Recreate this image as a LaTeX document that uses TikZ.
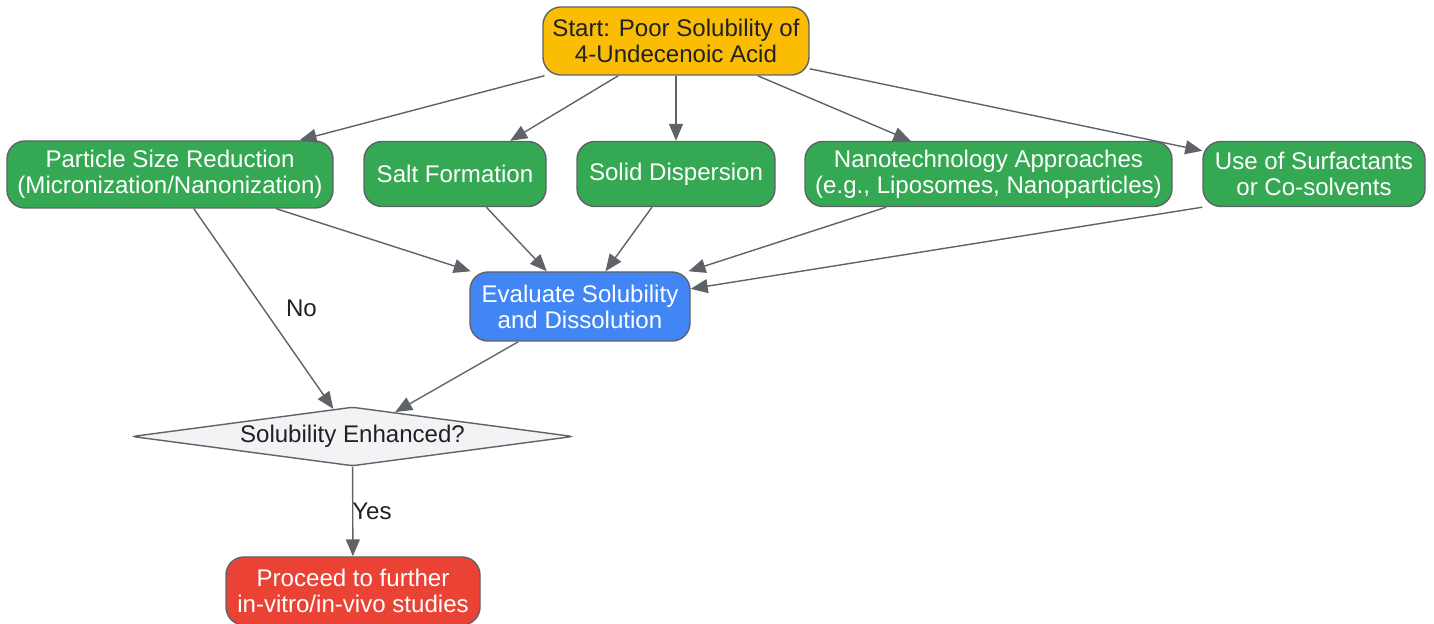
\documentclass[tikz,border=0pt]{standalone}
\usepackage{fontspec}
\setmainfont{Liberation Sans}
\usepackage{xcolor}
\usepackage{tikz}
\usetikzlibrary{shapes,arrows,positioning,calc,arrows.meta}

\definecolor{linegray}{HTML}{5F6368}
\definecolor{startyellow}{HTML}{FBBC04}
\definecolor{stepgreen}{HTML}{34A853}
\definecolor{evalblue}{HTML}{4285F4}
\definecolor{endred}{HTML}{EA4335}
\definecolor{decgray}{HTML}{F1F3F4}
\definecolor{darktext}{HTML}{202124}

\tikzset{
    box/.style={draw=linegray, line width=0.8pt, rounded corners=0.36cm,
        align=center, inner sep=2pt, font=\fontsize{13.7}{14.8}\selectfont},
    startbox/.style={box, fill=startyellow, text=darktext},
    stepbox/.style={box, fill=stepgreen, text=white, minimum height=1.3cm},
    evalbox/.style={box, fill=evalblue, text=white},
    endbox/.style={box, fill=endred, text=white},
    decision/.style={diamond, draw=linegray, line width=0.8pt, fill=decgray,
        text=darktext, aspect=7.5, inner sep=0pt, rounded corners=2pt,
        font=\fontsize{13.7}{14.8}\selectfont},
    link/.style={draw=linegray, line width=0.8pt,
        -{Triangle[length=0.34cm, width=0.28cm]}},
    linklabel/.style={text=darktext, font=\fontsize{13.7}{14.8}\selectfont}
}

\begin{document}
\begin{tikzpicture}
    \useasboundingbox (0,0) rectangle (28.68,-12.48);

    % Start
    \node[startbox, minimum width=5.32cm, minimum height=1.36cm] (start) at (13.52,-0.82)
        {Start: Poor Solubility of\\4-Undecenoic Acid};

    % Strategies
    \node[stepbox, minimum width=6.52cm, minimum height=1.34cm] (particle) at (3.40,-3.49)
        {Particle Size Reduction\\(Micronization/Nanonization)};
    \node[stepbox, minimum width=3.64cm] (salt) at (9.10,-3.48) {Salt Formation};
    \node[stepbox, minimum width=3.96cm] (solid) at (13.52,-3.48) {Solid Dispersion};
    \node[stepbox, minimum width=7.34cm] (nano) at (19.77,-3.48)
        {Nanotechnology Approaches\\(e.g., Liposomes, Nanoparticles)};
    \node[stepbox, minimum width=4.44cm] (surf) at (26.28,-3.48)
        {Use of Surfactants\\or Co-solvents};

    % Evaluation and decision
    \node[evalbox, minimum width=4.40cm, minimum height=1.38cm] (eval) at (11.60,-6.13)
        {Evaluate Solubility\\and Dissolution};
    \node[decision, minimum width=8.82cm, minimum height=1.18cm] (check) at (7.05,-8.73)
        {Solubility Enhanced?};
    \node[endbox, minimum width=5.08cm, minimum height=1.36cm] (proceed) at (7.06,-11.82)
        {Proceed to further\\in-vitro/in-vivo studies};

    % Links
    \draw[link] (start) -- (particle);
    \draw[link] (start) -- (salt);
    \draw[link] (start) -- (solid);
    \draw[link] (start) -- (nano);
    \draw[link] (start) -- (surf);

    \draw[link] (particle) -- (eval);
    \draw[link] (salt) -- (eval);
    \draw[link] (solid) -- (eval);
    \draw[link] (nano) -- (eval);
    \draw[link] (surf.south west) -- (eval);

    \draw[link] (particle) -- (check) node[linklabel, midway, right=0.32cm] {No};
    \draw[link] (eval) -- (check);
    \draw[link] (check) -- (proceed) node[linklabel, midway, right=-4pt] {Yes};
\end{tikzpicture}
\end{document}
